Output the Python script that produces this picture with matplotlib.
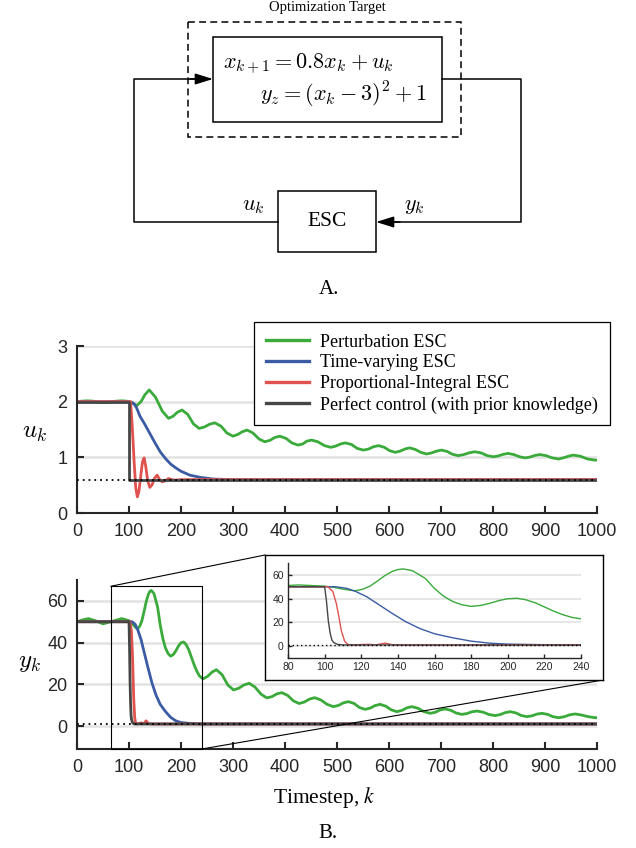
import matplotlib
matplotlib.use("Agg")
import matplotlib.pyplot as plt
from matplotlib.patches import Rectangle, ConnectionPatch

plt.rcParams["font.family"] = ["Liberation Sans", "DejaVu Sans"]
plt.rcParams["mathtext.fontset"] = "cm"

# ---- data ------------------------------------------------------------------
labels = ["Perturbation ESC", "Time-varying ESC",
          "Proportional-Integral ESC", "Perfect control (with prior knowledge)"]
colors = ["#3aaa3a", "#3b5ba5", "#e0524e", "#464646"]

# u_k panel
k_green_u = [0, 10, 20, 30, 40, 50, 60, 70, 85, 95, 105, 115, 123, 131, 139,
             151, 164, 176, 185, 193, 202, 213, 224, 235, 245, 255, 265, 277,
             288, 300, 309, 318, 327, 338, 350, 361, 371, 380, 390, 402, 413,
             425, 434, 442, 451, 463, 476, 488, 497, 507, 516, 528, 539, 551,
             561, 570, 580, 591, 601, 612, 621, 631, 640, 651, 661, 672, 682,
             691, 701, 712, 722, 733, 744, 754, 765, 777, 789, 801, 810, 820,
             829, 840, 851, 862, 871, 881, 890, 902, 914, 926, 935, 945, 954,
             968, 982, 996, 1000]
u_green = [2.00, 2.01, 2.015, 2.01, 1.995, 1.985, 1.99, 2.005, 2.015, 2.01,
           1.98, 1.93, 2.00, 2.13, 2.21,
           2.08, 1.83, 1.70, 1.74, 1.81, 1.85, 1.77, 1.60, 1.52, 1.545, 1.595,
           1.62, 1.56, 1.44, 1.38, 1.41, 1.46, 1.49, 1.44, 1.33, 1.28, 1.305,
           1.355, 1.38, 1.34, 1.26, 1.22, 1.24, 1.29, 1.31, 1.28, 1.21, 1.18,
           1.20, 1.24, 1.26, 1.23, 1.16, 1.13, 1.15, 1.19, 1.21, 1.18, 1.12,
           1.09, 1.11, 1.15, 1.17, 1.14, 1.09, 1.06, 1.08, 1.11, 1.13, 1.105,
           1.055, 1.03, 1.05, 1.08, 1.10, 1.08, 1.03, 1.01, 1.025, 1.055, 1.07,
           1.05, 1.01, 0.99, 1.005, 1.035, 1.05, 1.03, 0.99, 0.97, 0.99, 1.02,
           1.04, 1.02, 0.97, 0.95, 0.95]

k_blue_u = [0, 100, 105, 110, 115, 121, 130, 140, 150, 160, 170, 180, 190,
            200, 217, 237, 262, 300, 1000]
u_blue = [2.0, 2.0, 1.99, 1.96, 1.88, 1.74, 1.60, 1.43, 1.26, 1.10, 0.98,
          0.88, 0.81, 0.75, 0.68, 0.64, 0.61, 0.60, 0.60]

k_red_u = [0, 103, 106, 110, 113, 116, 119, 123, 126, 129, 132, 136, 140,
           144, 149, 154, 159, 164, 170, 176, 182, 189, 200, 1000]
u_red = [2.0, 2.0, 1.6, 0.9, 0.45, 0.29, 0.38, 0.70, 0.92, 0.99, 0.85, 0.58,
         0.46, 0.50, 0.62, 0.68, 0.60, 0.56, 0.58, 0.62, 0.60, 0.59, 0.60, 0.60]

k_black_u = [0, 100, 100, 1000]
u_black = [2.0, 2.0, 0.6, 0.6]

u_opt = 0.6

# y_k panel
k_green_y = [0, 10, 22, 35, 50, 65, 86, 100, 105, 110, 114, 117, 121, 125,
             129, 133, 137, 140, 143, 148, 155, 160, 165, 170, 175, 180, 185,
             190, 195, 200, 205, 210, 215, 220, 225, 230, 235, 240, 243,
             251, 260, 268,
             279, 290, 301, 311, 321, 331, 342, 354, 365, 375, 384, 394, 405,
             416, 427, 437, 447, 457, 469, 481, 493, 503, 512, 522, 533, 543,
             554, 564, 573, 583, 594, 604, 615, 625, 634, 644, 656, 667, 679,
             689, 698, 708, 719, 729, 740, 750, 759, 769, 781, 792, 804, 814,
             823, 833, 844, 854, 865, 875, 884, 894, 905, 915, 926, 937, 947,
             958, 970, 983, 996, 1000]
y_green = [50, 50.8, 51.5, 50.5, 49, 50, 51.5, 50.5, 49.5, 48, 47, 46.7, 48,
           50.7, 55, 59.5, 63, 64.5, 65, 63.5, 57, 48.5, 42, 37.5, 34.8, 33.5,
           34.2, 36, 38.3, 39.9, 40.3, 39, 36.5, 33, 29.5, 26.5, 24.2, 23,
           22.7, 23.8, 25.9, 27, 24.6, 19.7, 17.3, 18.1, 19.7, 20.5, 18.75,
           15.25, 13.5, 14.1, 15.4, 16, 14.7, 12.1, 10.8, 11.5, 12.9, 13.6,
           12.5, 10.4, 9.3, 9.9, 11.1, 11.7, 10.8, 8.9, 8.0, 8.6, 9.8, 10.4,
           9.5, 7.8, 6.9, 7.5, 8.7, 9.3, 8.5, 6.9, 6.1, 6.6, 7.7, 8.2, 7.55,
           6.25, 5.6, 6.0, 6.8, 7.2, 6.65, 5.55, 5.0, 5.5, 6.4, 6.9, 6.3, 5.1,
           4.5, 4.9, 5.7, 6.1, 5.6, 4.5, 4.0, 4.45, 5.35, 5.8, 5.3, 4.5, 4.0,
           4.0]

k_blue_y = [0, 106, 112, 117, 123, 130, 137, 144, 152, 160, 170, 180, 190,
            200, 220, 240, 1000]
y_blue = [50, 50, 48.7, 46, 41.6, 34.5, 27.5, 20.8, 14.8, 10.4, 7.0, 4.2,
          2.5, 1.7, 1.2, 1.0, 1.0]

k_red_y = [0, 101.8, 104.5, 106.4, 107.8, 109.1, 110.9, 112.7, 116, 120,
           124, 128, 133, 137, 145, 1000]
y_red = [50, 50, 45.9, 35.9, 24.6, 13.2, 4.2, 1.4, 1.0, 1.3, 1.5, 1.1, 2.5,
         1.2, 1.0, 1.0]

k_black_y = [0, 100, 101, 102, 103, 104, 105, 107, 110, 1000]
y_black = [50, 50, 38, 21.5, 11, 5, 3, 1.5, 1.0, 1.0]

y_opt = 1.0

x_ticks = [0, 100, 200, 300, 400, 500, 600, 700, 800, 900, 1000]
inset_x_ticks = [80, 100, 120, 140, 160, 180, 200, 220, 240]
zoom_box = (65, -11, 240, 67)  # k0, y0, k1, y1 of the zoomed window

series_u = [(k_green_u, u_green), (k_blue_u, u_blue),
            (k_red_u, u_red), (k_black_u, u_black)]
series_y = [(k_green_y, y_green), (k_blue_y, y_blue),
            (k_red_y, y_red), (k_black_y, y_black)]

W, H = 636, 848
fig = plt.figure(figsize=(W / 100, H / 100), dpi=100)


def px_axes(x0, y0, x1, y1, **kw):
    # axes placed by pixel box (top-left origin)
    return fig.add_axes([x0 / W, 1 - y1 / H, (x1 - x0) / W, (y1 - y0) / H], **kw)


def style(ax, size, lw, tick_len, pad):
    for s in ("top", "right"):
        ax.spines[s].set_visible(False)
    for s in ("left", "bottom"):
        ax.spines[s].set_linewidth(lw)
        ax.spines[s].set_color("#262626")
    ax.tick_params(direction="in", length=tick_len, width=lw, colors="#262626",
                   labelsize=size, pad=pad)
    ax.yaxis.grid(True, color="#e2e2e2", lw=1.8 if size > 10 else 1.2)
    ax.set_axisbelow(True)


# ---- top panel: u_k ---------------------------------------------------------
ax1 = px_axes(77, 346, 597, 513)
ax1.set_zorder(1)
for (k, v), c in zip(series_u, colors):
    ax1.plot(k, v, color=c, lw=2.0, solid_joinstyle="round")
ax1.axhline(u_opt, color="k", ls=(0, (1, 2.2)), lw=1.3, zorder=5)
ax1.set_xlim(0, 1000)
ax1.set_ylim(0, 3)
ax1.set_xticks(x_ticks)
ax1.set_yticks([0, 1, 2, 3])
style(ax1, 13, 1.5, 5, 7)

# ---- bottom panel: y_k ------------------------------------------------------
ax2 = px_axes(77, 580, 597, 749)
ax2.set_zorder(1)
for (k, v), c in zip(series_y, colors):
    ax2.plot(k, v, color=c, lw=2.0, solid_joinstyle="round")
ax2.axhline(y_opt, color="k", ls=(0, (1, 2.2)), lw=1.3, zorder=5)
ax2.set_xlim(0, 1000)
ax2.set_ylim(-11, 70)
ax2.set_xticks(x_ticks)
ax2.set_yticks([0, 20, 40, 60])
style(ax2, 13, 1.5, 5, 7)
k0, y0, k1, y1 = zoom_box
ax2.add_patch(Rectangle((k0, y0), k1 - k0, y1 - y0, fill=False, ec="k",
                        lw=0.8, clip_on=False, zorder=6))

# ---- inset ------------------------------------------------------------------
frame = px_axes(265, 555, 603, 680)
frame.set_zorder(3)
frame.set_xticks([])
frame.set_yticks([])
for s in frame.spines.values():
    s.set_linewidth(1.0)

ax3 = px_axes(288, 563, 581, 658)
ax3.set_zorder(4)
ax3.patch.set_alpha(0)
for (k, v), c in zip(series_y, colors):
    ax3.plot(k, v, color=c, lw=1.0)
ax3.axhline(y_opt, color="k", ls=(0, (1, 2)), lw=1.0, zorder=5)
ax3.set_xlim(80, 240)
ax3.set_ylim(-10, 70)
ax3.set_xticks(inset_x_ticks)
ax3.set_yticks([0, 20, 40, 60])
style(ax3, 7.5, 1.0, 3, 3)

for xa, xb in (((k0, y1), (0, 1)), ((k1, y0), (1, 0))):
    con = ConnectionPatch(xyA=xa, coordsA=ax2.transData, xyB=xb,
                          coordsB=frame.transAxes, color="k", lw=0.8)
    con.set_zorder(2)
    fig.add_artist(con)

# ---- overlay: block diagram and captions ------------------------------------
ax0 = fig.add_axes([0, 0, 1, 1])
ax0.set_zorder(5)
ax0.set_xlim(0, W)
ax0.set_ylim(H, 0)
ax0.axis("off")

serif = ["Liberation Serif", "DejaVu Serif"]
arrow = dict(arrowstyle="-|>,head_length=0.9,head_width=0.28", color="k",
             lw=1.1, shrinkA=0, shrinkB=0, mutation_scale=12)
ax0.text(327, 8, "Optimization Target", family=serif, fontsize=10.5,
         ha="center", va="center")
ax0.add_patch(Rectangle((188, 22), 273, 115, fill=False, lw=1.1,
                        ls=(0, (4.5, 2.8))))
ax0.add_patch(Rectangle((213, 37), 229, 85, fill=False, lw=1.1))
ax0.text(223, 64, r"$x_{k+1} = 0.8x_k + u_k$", fontsize=16, ha="left",
         va="center")
ax0.text(427, 95, r"$y_z = (x_k - 3)^2 + 1$", fontsize=16, ha="right",
         va="center")
ax0.add_patch(Rectangle((278, 191), 98, 61, fill=False, lw=1.1))
ax0.text(327, 222, "ESC", family=serif, fontsize=15.5, ha="center",
         va="center")
ax0.plot([278, 134, 134, 200], [222, 222, 79, 79], color="k", lw=1.1)
ax0.annotate("", xy=(213, 79), xytext=(190, 79), arrowprops=arrow)
ax0.plot([442, 521, 521, 390], [79, 79, 222, 222], color="k", lw=1.1)
ax0.annotate("", xy=(376, 222), xytext=(400, 222), arrowprops=arrow)
ax0.text(253, 206, r"$u_k$", fontsize=16, ha="center", va="center")
ax0.text(414, 206, r"$y_k$", fontsize=16, ha="center", va="center")
ax0.text(329, 290, "A.", family=serif, fontsize=15, ha="center", va="center")

ax0.text(35, 432, r"$u_k$", fontsize=18, ha="center", va="center")
ax0.text(30, 662, r"$y_k$", fontsize=18, ha="center", va="center")
ax0.text(324, 797, r"Timestep, $k$", family=serif, fontsize=15.5,
         math_fontfamily="stix", ha="center", va="center")
ax0.text(328, 833, "B.", family=serif, fontsize=15, ha="center", va="center")

# ---- legend -----------------------------------------------------------------
handles = [plt.Line2D([], [], color=c, lw=2.4) for c in colors]
leg = fig.legend(handles, labels, loc="upper left",
                 bbox_to_anchor=(254 / W, 1 - 322 / H),
                 prop={"family": serif, "size": 13}, frameon=True,
                 fancybox=False, edgecolor="k", framealpha=1,
                 handlelength=2.4, handletextpad=0.6, labelspacing=0.2,
                 borderpad=0.65, borderaxespad=0)
leg.get_frame().set_linewidth(0.9)
leg.set_zorder(6)

fig.savefig("out.png", dpi=100)
